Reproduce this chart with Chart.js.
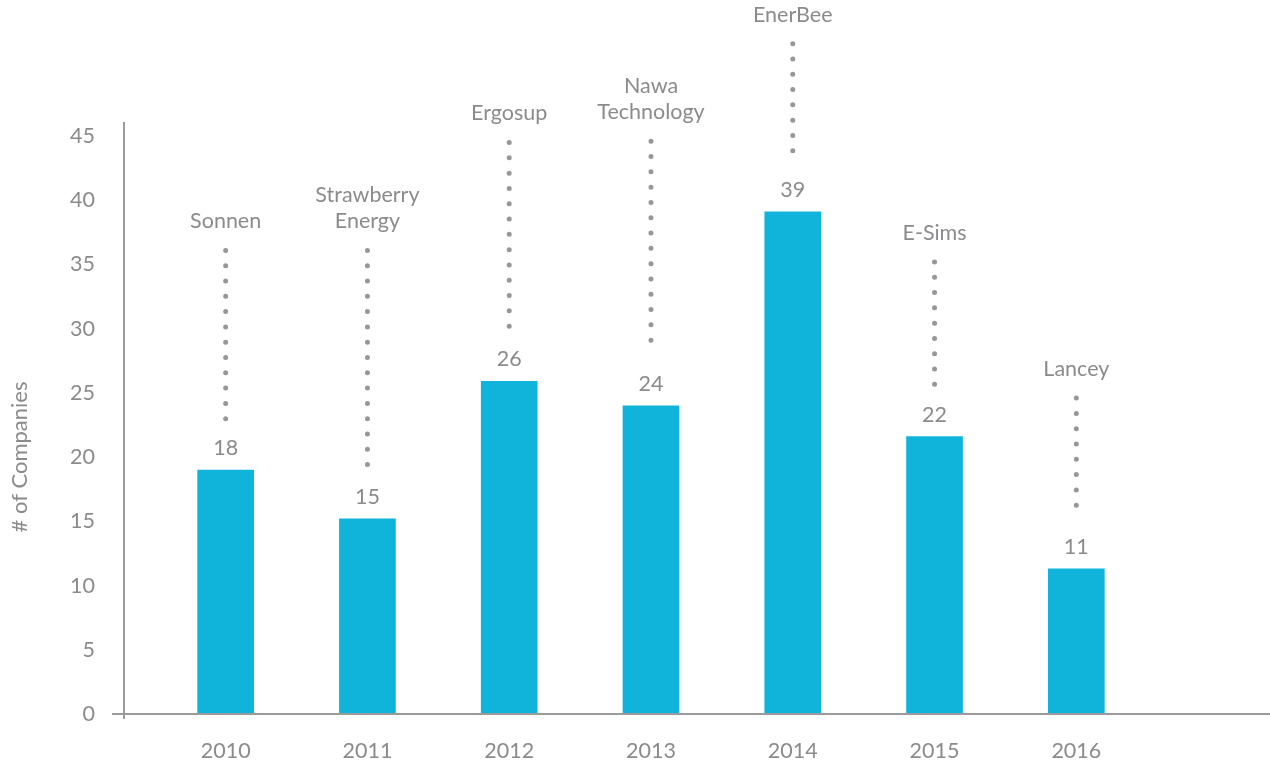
<!DOCTYPE html>
<html>
<head>
<meta charset="utf-8">
<script src="https://cdn.jsdelivr.net/npm/chart.js@4/dist/chart.umd.min.js"></script>
<style>
  html, body { margin: 0; padding: 0; background: #ffffff; }
  #wrap { width: 1270px; height: 761px; position: relative; }
</style>
</head>
<body>
<div id="wrap"><canvas id="c"></canvas></div>
<script>
// ---- data ----
const years = [2010, 2011, 2012, 2013, 2014, 2015, 2016];
const barValues = [19.0, 15.2, 25.9, 24.0, 39.1, 21.6, 11.3];
const valueLabels = ['18', '15', '26', '24', '39', '22', '11'];
const companies = [['Sonnen'], ['Strawberry', 'Energy'], ['Ergosup'], ['Nawa', 'Technology'], ['EnerBee'], ['E-Sims'], ['Lancey']];
const leaderTop = [36.1, 36.1, 44.5, 44.6, 52.2, 35.2, 24.6];
const leaderBottom = [22.7, 19.3, 29.75, 28.7, 42.7, 25.6, 15.1];
const yTicks = [0, 5, 10, 15, 20, 25, 30, 35, 40, 45];
const yTitle = '# of Companies';

const TEXT = '#8b8b8d';
const AXIS = '#9b9b9d';
const BAR = '#10b3d9';
const FONT = 'Lato, "Open Sans", sans-serif';
const FS = 21.5;

const decor = {
  id: 'decor',
  afterDatasetsDraw(chart) {
    const { ctx, scales: { x, y } } = chart;
    const meta = chart.getDatasetMeta(0);
    ctx.save();
    // axes
    ctx.strokeStyle = AXIS;
    ctx.lineWidth = 2;
    const y0 = y.getPixelForValue(0);
    ctx.beginPath();
    ctx.moveTo(x.left - 12, y0);
    ctx.lineTo(x.right, y0);
    ctx.moveTo(x.left, y.top);
    ctx.lineTo(x.left, y0 + 5);
    ctx.stroke();

    // dotted leader lines
    ctx.strokeStyle = '#97979b';
    ctx.lineWidth = 5;
    ctx.lineCap = 'round';
    ctx.setLineDash([0, 15.3]);
    years.forEach((yr, i) => {
      const cx = x.getPixelForValue(yr);
      ctx.beginPath();
      ctx.moveTo(cx, y.getPixelForValue(leaderTop[i]));
      ctx.lineTo(cx, y.getPixelForValue(leaderBottom[i]));
      ctx.stroke();
    });
    ctx.setLineDash([]);

    // labels
    ctx.fillStyle = TEXT;
    ctx.font = FS + 'px ' + FONT;
    ctx.textAlign = 'center';
    ctx.textBaseline = 'middle';
    years.forEach((yr, i) => {
      const bar = meta.data[i];
      const cx = bar.x;
      ctx.fillText(valueLabels[i], cx, bar.y - 22);
      const top = y.getPixelForValue(leaderTop[i]);
      const lines = companies[i];
      lines.forEach((t, j) => {
        const off = (lines.length - 1 - j) * 26;
        ctx.fillText(t, cx, top - 29 - off);
      });
    });

    // y title
    ctx.font = '22px ' + FONT;
    ctx.translate(20, 457);
    ctx.rotate(-Math.PI / 2);
    ctx.fillText(yTitle, 0, 0);
    ctx.restore();
  }
};

new Chart(document.getElementById('c'), {
  type: 'bar',
  data: {
    datasets: [{
      data: years.map((yr, i) => ({ x: yr, y: barValues[i] })),
      backgroundColor: BAR,
      borderWidth: 0,
      barThickness: 56
    }]
  },
  options: {
    responsive: true,
    maintainAspectRatio: false,
    animation: false,
    layout: { padding: { top: 122, left: 0, right: 0, bottom: 0 } },
    plugins: { legend: { display: false }, tooltip: { enabled: false } },
    scales: {
      x: {
        type: 'linear',
        offset: false,
        min: 2009.283,
        max: 2017.366,
        grid: { display: false, drawTicks: false, offset: false },
        border: { display: false },
        afterBuildTicks: (s) => { s.ticks = years.map(v => ({ value: v })); },
        afterFit: (s) => { s.height = 47; },
        ticks: {
          color: TEXT,
          font: { family: FONT, size: FS },
          padding: 24,
          maxRotation: 0,
          autoSkip: false,
          callback: (v) => String(v)
        }
      },
      y: {
        min: 0,
        max: 46.1,
        grid: { display: false, drawTicks: false },
        border: { display: false },
        afterBuildTicks: (s) => { s.ticks = yTicks.map(v => ({ value: v })); },
        afterFit: (s) => { s.width = 124; },
        ticks: {
          color: TEXT,
          font: { family: FONT, size: FS },
          padding: 29
        }
      }
    }
  },
  plugins: [decor]
});
</script>
</body>
</html>
